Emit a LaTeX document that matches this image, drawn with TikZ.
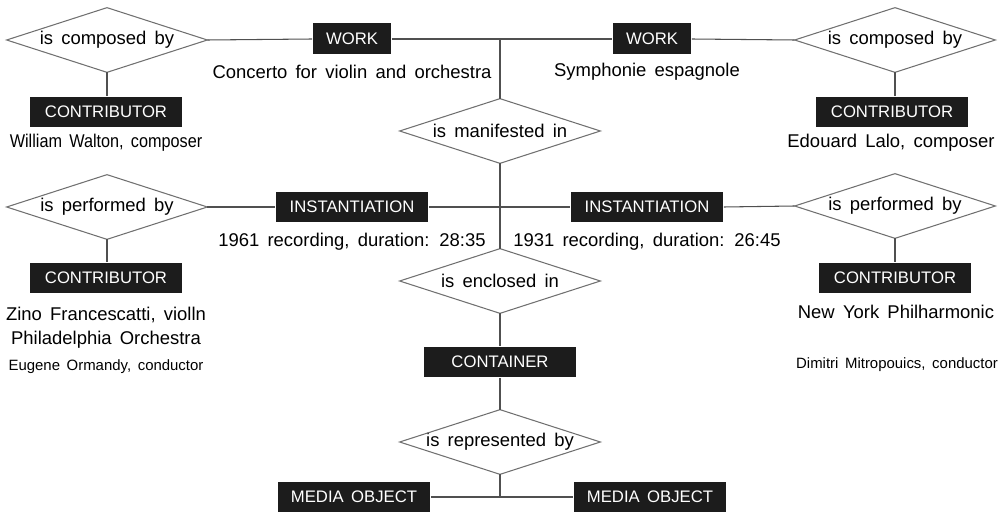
\documentclass[tikz,border=0pt]{standalone}
\usepackage{fontspec}
\setmainfont[WordSpace=1.6]{Liberation Sans}
\newfontfamily\narrowfont[FakeStretch=0.88,WordSpace=1.6]{Liberation Sans}
\definecolor{boxblack}{HTML}{1C1C1C}
\definecolor{linegray}{HTML}{505050}
\definecolor{rimgray}{HTML}{707070}

\begin{document}
\begin{tikzpicture}[x=0.02cm, y=-0.02cm,
  every node/.style={font=\fontsize{10.5}{12}\selectfont},
  ent/.style={fill=boxblack, text=white, font=\fontsize{9.5}{11}\selectfont,
    minimum width=3.06cm, minimum height=0.62cm, inner sep=0pt},
  rel/.style={minimum width=4cm, minimum height=1.28cm, inner sep=0pt},
  smalltxt/.style={font=\fontsize{8.5}{10}\selectfont},
  link/.style={draw=linegray, line width=0.6pt}]
  \useasboundingbox (0,0) rectangle (1001,513);

  % works
  \node[rel] (cmpL) at (107,40) {is composed by};
  \node[ent, minimum width=1.58cm] (wkL) at (352,39) {WORK};
  \node[ent, minimum width=1.58cm] (wkR) at (652,39) {WORK};
  \node[rel] (cmpR) at (895,40) {is composed by};
  \node[ent] (ctbA) at (106,112) {CONTRIBUTOR};
  \node[ent] (ctbB) at (892,112) {CONTRIBUTOR};
  \node (wkLtxt) at (352,72) {Concerto for violin and orchestra};
  \node (wkRtxt) at (647,72) {Symphonie espagnole};
  \node[font=\narrowfont\fontsize{10.5}{12}\selectfont] (ctbAtxt) at (106,143) {William Walton, composer};
  \node (ctbBtxt) at (891,143) {Edouard Lalo, composer};

  % instantiations
  \node[rel] (man) at (500,131) {is manifested in};
  \node[rel] (prfL) at (107,207) {is performed by};
  \node[ent] (insL) at (352,207) {INSTANTIATION};
  \node[ent] (insR) at (647,207) {INSTANTIATION};
  \node[rel] (prfR) at (895,206) {is performed by};
  \node (insLtxt) at (352,242) {1961 recording, duration: 28:35};
  \node (insRtxt) at (647,242) {1931 recording, duration: 26:45};
  \node[ent] (ctbC) at (106,278) {CONTRIBUTOR};
  \node[ent] (ctbD) at (895,278) {CONTRIBUTOR};
  \node (ctbCtxt) at (106,315) {Zino Francescatti, violln};
  \node (ctbCtxtb) at (106,340) {Philadelphia Orchestra};
  \node[smalltxt] (ctbCtxtc) at (106,367) {Eugene Ormandy, conductor};
  \node (ctbDtxt) at (896,312) {New York Philharmonic};
  \node[smalltxt] (ctbDtxtb) at (897,365) {Dimitri Mitropouics, conductor};

  % container and media
  \node[rel] (enc) at (500,281) {is enclosed in};
  \node[ent] (cnt) at (500,362) {CONTAINER};
  \node[rel] (rep) at (500,442) {is represented by};
  \node[ent] (medL) at (354,497) {MEDIA OBJECT};
  \node[ent] (medR) at (650,497) {MEDIA OBJECT};

  \foreach \d in {cmpL,cmpR,man,prfL,prfR,enc,rep}
    \draw[draw=rimgray, line width=0.6pt] (\d.west) -- (\d.north) -- (\d.east) -- (\d.south) -- cycle;

  \draw[link] (cmpL.east) -- (wkL.west);
  \draw[link] (wkL.east) -- (wkR.west);
  \draw[link] (wkR.east) -- (cmpR.west);
  \draw[link] (cmpL.south) -- (cmpL.south |- ctbA.north);
  \draw[link] (cmpR.south) -- (cmpR.south |- ctbB.north);
  \draw[link] (man.north) -- (man.north |- wkL.east);
  \draw[link] (prfL.east) -- (insL.west);
  \draw[link] (insL.east) -- (insR.west);
  \draw[link] (insR.east) -- (prfR.west);
  \draw[link] (prfL.south) -- (prfL.south |- ctbC.north);
  \draw[link] (prfR.south) -- (prfR.south |- ctbD.north);
  \draw[link] (man.south) -- (enc.north);
  \draw[link] (enc.south) -- (cnt.north);
  \draw[link] (cnt.south) -- (rep.north);
  \draw[link] (rep.south) -- (rep.south |- medL.east);
  \draw[link] (medL.east) -- (medR.west);
\end{tikzpicture}
\end{document}
